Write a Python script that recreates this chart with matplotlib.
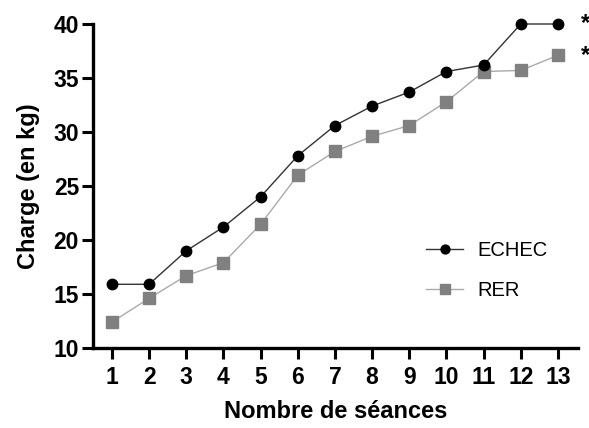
import matplotlib
matplotlib.use('Agg')
import matplotlib.pyplot as plt

plt.rcParams['font.family'] = ['Liberation Sans', 'DejaVu Sans']

# données
seances = [1, 2, 3, 4, 5, 6, 7, 8, 9, 10, 11, 12, 13]
echec = [15.9, 15.9, 19.0, 21.2, 24.0, 27.8, 30.6, 32.4, 33.7, 35.6, 36.2, 40.0, 40.0]
rer = [12.4, 14.6, 16.7, 17.9, 21.45, 26.0, 28.2, 29.6, 30.6, 32.8, 35.6, 35.7, 37.1]

fig = plt.figure(figsize=(5.89, 4.28), dpi=100)
ax = fig.add_axes([93 / 589, 80 / 428, 485 / 589, 324 / 428])

ax.plot(seances, echec, color='#333333', lw=1.0, marker='o', ms=7.5,
        mfc='black', mec='black', label='ECHEC', clip_on=False, zorder=3)
ax.plot(seances, rer, color='#aaaaaa', lw=1.0, marker='s', ms=9,
        mfc='#808080', mec='#808080', label='RER', clip_on=False, zorder=2)

ax.set_xlim(0.49, 13.54)
ax.set_ylim(10, 40)
ax.set_xticks(seances)
ax.set_yticks([10, 15, 20, 25, 30, 35, 40])

for s in ['top', 'right']:
    ax.spines[s].set_visible(False)
for s in ['left', 'bottom']:
    ax.spines[s].set_linewidth(2.4)

ax.tick_params(direction='out', length=8, width=2.2, labelsize=16.5)
ax.tick_params(axis='x', pad=5)
ax.tick_params(axis='y', pad=2)
for lab in ax.get_xticklabels() + ax.get_yticklabels():
    lab.set_fontweight('bold')

ax.set_xlabel('Nombre de séances', fontsize=17, fontweight='bold', labelpad=8)
ax.set_ylabel('Charge (en kg)', fontsize=17, fontweight='bold', labelpad=10)

# étoiles de significativité
ax.text(13.62, echec[-1], '*', fontsize=17, fontweight='bold', va='center', ha='left', clip_on=False)
ax.text(13.62, rer[-1], '*', fontsize=17, fontweight='bold', va='center', ha='left', clip_on=False)

leg = ax.legend(loc='center left', bbox_to_anchor=(0.65, 0.24), frameon=False, fontsize=14.5,
                handlelength=1.8, labelspacing=1.05, handletextpad=0.75)
for h in leg.legend_handles:
    h.set_markersize(h.get_markersize() * 0.85)

fig.savefig('out.png', dpi=100)
